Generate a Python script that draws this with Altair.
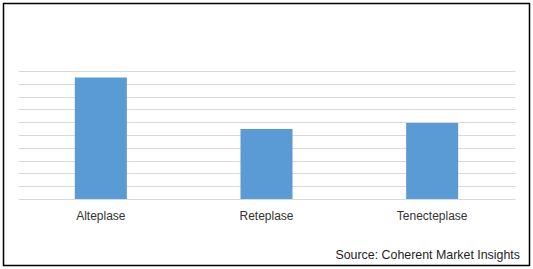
import altair as alt
import pandas as pd

categories = ["Alteplase", "Reteplase", "Tenecteplase"]
values = [9.49, 5.46, 5.94]
source_text = ["Source: Coherent Market Insights"]

df = pd.DataFrame({"drug": categories, "value": values})

bars = alt.Chart(df).mark_bar(color="#5B9BD5").encode(
    x=alt.X(
        "drug:N",
        sort=categories,
        title=None,
        scale=alt.Scale(paddingInner=0.686, paddingOuter=0.343),
        axis=alt.Axis(
            labelAngle=0,
            ticks=False,
            tickSize=0,
            domain=False,
            grid=False,
            labelPadding=20,
            labelBaseline="alphabetic",
            labelFont="Liberation Sans",
            labelFontSize=12,
            labelColor="#333333",
        ),
    ),
    y=alt.Y(
        "value:Q",
        title=None,
        scale=alt.Scale(domain=[0, 10], nice=False),
        axis=alt.Axis(
            values=list(range(0, 11)),
            labels=False,
            ticks=False,
            domain=False,
            grid=True,
            gridColor="#D9D9D9",
            gridWidth=1,
        ),
    ),
)

src = alt.Chart(pd.DataFrame({"t": source_text})).mark_text(
    align="right",
    baseline="alphabetic",
    font="Liberation Sans",
    fontSize=12.4,
    color="#1F1F1F",
).encode(x=alt.value(502), y=alt.value(188), text="t:N")

border = alt.Chart(alt.Data(values=[{}])).mark_rect(
    filled=False, stroke="#000000", strokeWidth=1.5
).encode(
    x=alt.value(-14.5), x2=alt.value(511.5), y=alt.value(-67.5), y2=alt.value(194.5)
)

chart = alt.layer(bars, src, border).properties(
    width=497,
    height=128,
    autosize=alt.AutoSizeParams(type="none"),
    padding={"left": 18, "top": 71, "right": 18, "bottom": 70},
    background="white",
).configure_view(stroke=None)

chart.save("out.html", embed_options={"renderer": "svg", "actions": False})
